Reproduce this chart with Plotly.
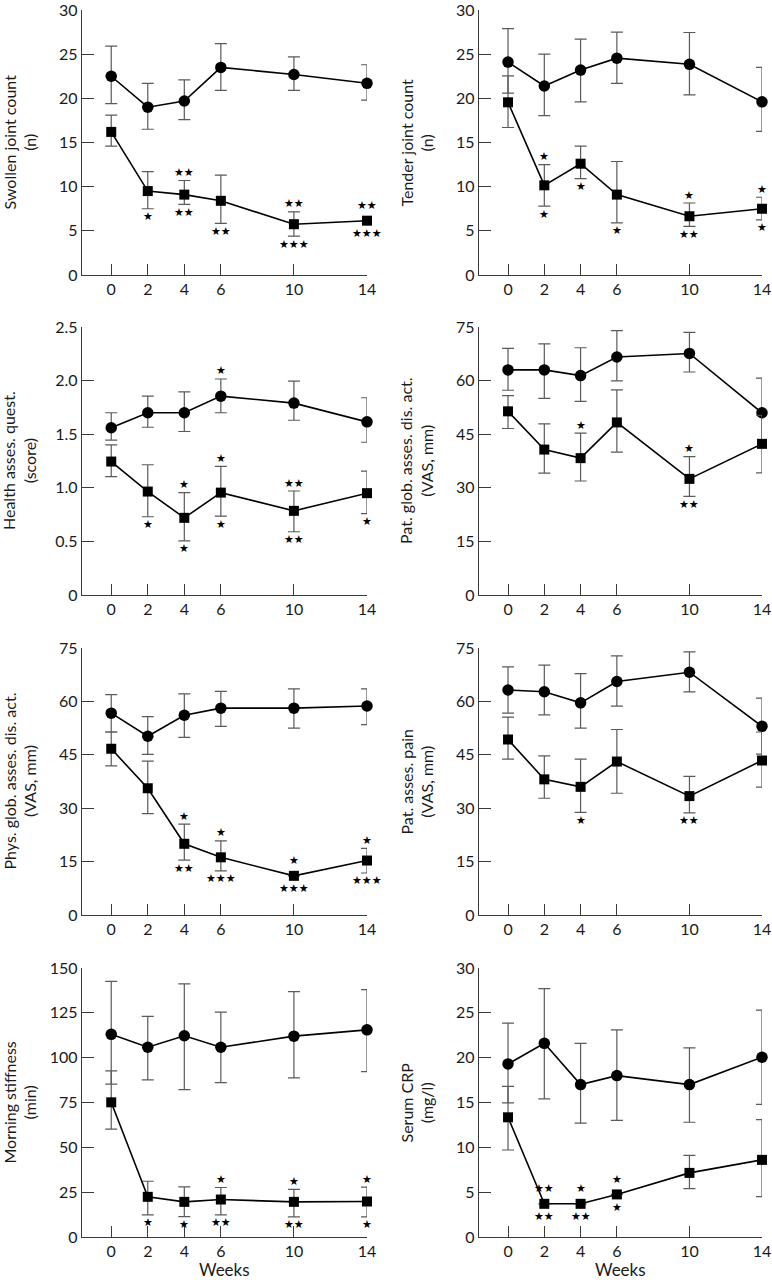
import plotly.graph_objects as go

W, H = 772, 1280
WEEKS = [0, 2, 4, 6, 10, 14]
X_TICKS = ["0", "2", "4", "6", "10", "14"]

# ---- Panel 1: Swollen joint count ----
SJC_CIRC = [22.5, 19.0, 19.7, 23.5, 22.7, 21.7]
SJC_CIRC_HI = [25.9, 21.7, 22.1, 26.2, 24.7, 23.8]
SJC_CIRC_LO = [19.4, 16.5, 17.6, 20.9, 20.9, 19.8]
SJC_SQ = [16.2, 9.5, 9.1, 8.4, 5.75, 6.15]
SJC_SQ_HI = [18.1, 11.7, 10.7, 11.3, 7.15, 6.15]
SJC_SQ_LO = [14.6, 7.5, 8.0, 5.85, 4.4, 6.15]
SJC_ABOVE = ["", "", "★★", "", "★★", "★★"]
SJC_BELOW = ["", "★", "★★", "★★", "★★★", "★★★"]

# ---- Panel 2: Tender joint count ----
TJC_CIRC = [24.1, 21.4, 23.2, 24.55, 23.85, 19.6]
TJC_CIRC_HI = [27.9, 25.0, 26.7, 27.5, 27.45, 23.5]
TJC_CIRC_LO = [20.6, 18.05, 19.6, 21.7, 20.4, 16.25]
TJC_SQ = [19.55, 10.15, 12.6, 9.1, 6.65, 7.5]
TJC_SQ_HI = [22.55, 12.5, 14.6, 12.85, 8.15, 8.8]
TJC_SQ_LO = [16.7, 7.8, 10.9, 5.9, 5.5, 6.25]
TJC_ABOVE = ["", "★", "", "", "★", "★"]
TJC_BELOW = ["", "★", "★", "★", "★★", "★"]

# ---- Panel 3: Health assessment questionnaire ----
HAQ_CIRC = [1.56, 1.70, 1.70, 1.855, 1.79, 1.615]
HAQ_CIRC_HI = [1.70, 1.855, 1.895, 2.015, 1.995, 1.84]
HAQ_CIRC_LO = [1.445, 1.565, 1.525, 1.70, 1.63, 1.425]
HAQ_SQ = [1.245, 0.965, 0.72, 0.955, 0.785, 0.95]
HAQ_SQ_HI = [1.40, 1.215, 0.955, 1.20, 0.97, 1.155]
HAQ_SQ_LO = [1.105, 0.73, 0.505, 0.735, 0.59, 0.76]
HAQ_CIRC_ABOVE = ["", "", "", "★", "", ""]
HAQ_ABOVE = ["", "", "★", "★", "★★", ""]
HAQ_BELOW = ["", "★", "★", "★", "★★", "★"]

# ---- Panel 4: Patient global assessment of disease activity ----
PGA_CIRC = [63.0, 63.0, 61.4, 66.6, 67.6, 51.0]
PGA_CIRC_HI = [69.0, 70.3, 69.2, 74.0, 73.5, 60.7]
PGA_CIRC_LO = [57.3, 55.0, 54.2, 59.9, 62.4, 41.5]
PGA_SQ = [51.4, 40.7, 38.3, 48.3, 32.5, 42.3]
PGA_SQ_HI = [55.8, 47.9, 45.3, 57.4, 38.7, 50.3]
PGA_SQ_LO = [46.6, 34.1, 31.9, 40.0, 27.6, 34.2]
PGA_ABOVE = ["", "", "★", "", "★", ""]
PGA_BELOW = ["", "", "", "", "★★", ""]

# ---- Panel 5: Physician global assessment of disease activity ----
PHGA_CIRC = [56.7, 50.2, 56.1, 58.1, 58.1, 58.7]
PHGA_CIRC_HI = [61.9, 55.7, 62.1, 62.8, 63.5, 63.5]
PHGA_CIRC_LO = [51.4, 45.1, 49.9, 53.0, 52.5, 53.5]
PHGA_SQ = [46.7, 35.6, 20.0, 16.2, 11.0, 15.3]
PHGA_SQ_HI = [51.4, 43.2, 25.5, 20.8, 11.0, 18.7]
PHGA_SQ_LO = [41.9, 28.5, 15.4, 12.4, 11.0, 11.8]
PHGA_ABOVE = ["", "", "★", "★", "★", "★"]
PHGA_BELOW = ["", "", "★★", "★★★", "★★★", "★★★"]

# ---- Panel 6: Patient assessment of pain ----
PAIN_CIRC = [63.2, 62.7, 59.6, 65.6, 68.2, 53.0]
PAIN_CIRC_HI = [69.7, 70.2, 67.8, 72.8, 73.9, 60.9]
PAIN_CIRC_LO = [56.7, 56.2, 52.5, 58.7, 62.7, 45.2]
PAIN_SQ = [49.3, 38.1, 36.0, 43.1, 33.4, 43.4]
PAIN_SQ_HI = [55.6, 44.7, 43.8, 52.1, 38.95, 51.4]
PAIN_SQ_LO = [43.8, 32.8, 28.8, 34.2, 28.7, 35.9]
PAIN_ABOVE = ["", "", "", "", "", ""]
PAIN_BELOW = ["", "", "★", "", "★★", ""]

# ---- Panel 7: Morning stiffness ----
MS_CIRC = [113.0, 105.8, 112.2, 105.8, 112.0, 115.5]
MS_CIRC_HI = [142.5, 123.0, 141.1, 125.4, 136.8, 137.9]
MS_CIRC_LO = [85.2, 87.6, 82.2, 86.1, 88.7, 92.2]
MS_SQ = [75.1, 22.4, 19.6, 20.9, 19.6, 19.8]
MS_SQ_HI = [92.6, 31.1, 28.0, 27.6, 26.6, 27.8]
MS_SQ_LO = [60.2, 12.3, 11.4, 12.3, 11.2, 11.2]
MS_ABOVE = ["", "", "", "★", "★", "★"]
MS_BELOW = ["", "★", "★", "★★", "★★", "★"]

# ---- Panel 8: Serum CRP ----
CRP_CIRC = [19.3, 21.6, 17.0, 18.0, 17.0, 20.05]
CRP_CIRC_HI = [23.85, 27.7, 21.6, 23.1, 21.1, 25.3]
CRP_CIRC_LO = [14.95, 15.4, 12.7, 13.0, 12.8, 14.8]
CRP_SQ = [13.35, 3.7, 3.7, 4.75, 7.15, 8.6]
CRP_SQ_HI = [16.8, 3.7, 3.7, 4.75, 9.1, 13.1]
CRP_SQ_LO = [9.7, 3.7, 3.7, 4.75, 5.4, 4.5]
CRP_ABOVE = ["", "★★", "★", "★", "", ""]
CRP_BELOW = ["", "★★", "★★", "★", "", ""]

EMPTY = ["", "", "", "", "", ""]

Y_TITLES = [
    "Swollen joint count<br>(n)", "Tender joint count<br>(n)",
    "Health asses. quest.<br>(score)", "Pat. glob. asses. dis. act.<br>(VAS, mm)",
    "Phys. glob. asses. dis. act.<br>(VAS, mm)", "Pat. asses. pain<br>(VAS, mm)",
    "Morning stiffness<br>(min)", "Serum CRP<br>(mg/l)",
]
Y_TICKVALS = [
    [0, 5, 10, 15, 20, 25, 30], [0, 5, 10, 15, 20, 25, 30],
    [0, 0.5, 1.0, 1.5, 2.0, 2.5], [0, 15, 30, 45, 60, 75],
    [0, 15, 30, 45, 60, 75], [0, 15, 30, 45, 60, 75],
    [0, 25, 50, 75, 100, 125, 150], [0, 5, 10, 15, 20, 25, 30],
]
Y_TICKTEXT = [
    ["0", "5", "10", "15", "20", "25", "30"], ["0", "5", "10", "15", "20", "25", "30"],
    ["0", "0.5", "1.0", "1.5", "2.0", "2.5"], ["0", "15", "30", "45", "60", "75"],
    ["0", "15", "30", "45", "60", "75"], ["0", "15", "30", "45", "60", "75"],
    ["0", "25", "50", "75", "100", "125", "150"], ["0", "5", "10", "15", "20", "25", "30"],
]

PANELS = [
    (SJC_CIRC, SJC_CIRC_HI, SJC_CIRC_LO, SJC_SQ, SJC_SQ_HI, SJC_SQ_LO, EMPTY, SJC_ABOVE, SJC_BELOW),
    (TJC_CIRC, TJC_CIRC_HI, TJC_CIRC_LO, TJC_SQ, TJC_SQ_HI, TJC_SQ_LO, EMPTY, TJC_ABOVE, TJC_BELOW),
    (HAQ_CIRC, HAQ_CIRC_HI, HAQ_CIRC_LO, HAQ_SQ, HAQ_SQ_HI, HAQ_SQ_LO, HAQ_CIRC_ABOVE, HAQ_ABOVE, HAQ_BELOW),
    (PGA_CIRC, PGA_CIRC_HI, PGA_CIRC_LO, PGA_SQ, PGA_SQ_HI, PGA_SQ_LO, EMPTY, PGA_ABOVE, PGA_BELOW),
    (PHGA_CIRC, PHGA_CIRC_HI, PHGA_CIRC_LO, PHGA_SQ, PHGA_SQ_HI, PHGA_SQ_LO, EMPTY, PHGA_ABOVE, PHGA_BELOW),
    (PAIN_CIRC, PAIN_CIRC_HI, PAIN_CIRC_LO, PAIN_SQ, PAIN_SQ_HI, PAIN_SQ_LO, EMPTY, PAIN_ABOVE, PAIN_BELOW),
    (MS_CIRC, MS_CIRC_HI, MS_CIRC_LO, MS_SQ, MS_SQ_HI, MS_SQ_LO, EMPTY, MS_ABOVE, MS_BELOW),
    (CRP_CIRC, CRP_CIRC_HI, CRP_CIRC_LO, CRP_SQ, CRP_SQ_HI, CRP_SQ_LO, EMPTY, CRP_ABOVE, CRP_BELOW),
]

# ---- layout geometry (pixels) ----
COL_X = [(82, 367), (479, 762)]
ROW_Y = [(10, 275), (327, 595), (648, 915), (968, 1237)]
TITLE_X = [19, 416]
X_MIN = -1.6

FONT = "Lato, 'DejaVu Sans', sans-serif"
AXIS_COL = "#3a3a3a"
ERR_COL = "#5a5a5a"
TEXT_COL = "#1a1a1a"
STAR_FONT = "DejaVu Sans"

fig = go.Figure()
layout = dict(
    width=W, height=H, margin=dict(l=0, r=0, t=0, b=0, autoexpand=False),
    paper_bgcolor="white", plot_bgcolor="white", showlegend=False,
    font=dict(family=FONT, size=16, color=TEXT_COL),
)
annotations = []

for i, p in enumerate(PANELS):
    circ, circ_hi, circ_lo, sq, sq_hi, sq_lo, circ_above, above, below = p
    row, col = divmod(i, 2)
    x0, x1 = COL_X[col]
    yt, yb = ROW_Y[row]
    ymax = Y_TICKVALS[i][-1]
    px_per_unit = (yb - yt) / ymax
    n = i + 1
    xa = "xaxis" if n == 1 else f"xaxis{n}"
    ya = "yaxis" if n == 1 else f"yaxis{n}"
    xr = "x" if n == 1 else f"x{n}"
    yr = "y" if n == 1 else f"y{n}"

    layout[xa] = dict(
        domain=[x0 / W, x1 / W], range=[X_MIN, 14], anchor=yr, automargin=False,
        ticklabeloverflow="allow",
        tickvals=WEEKS, ticktext=X_TICKS, ticks="inside", ticklen=11,
        tickwidth=1.3, tickcolor=AXIS_COL, showline=True, linecolor=AXIS_COL,
        linewidth=1.3, showgrid=False, zeroline=False,
        tickfont=dict(size=16, family=FONT, color=TEXT_COL),
    )
    layout[ya] = dict(
        domain=[1 - yb / H, 1 - yt / H], range=[0, ymax], anchor=xr, automargin=False,
        ticklabeloverflow="allow",
        tickvals=Y_TICKVALS[i], ticktext=Y_TICKTEXT[i], ticks="inside", ticklen=12,
        tickwidth=1.3, tickcolor=AXIS_COL, showline=True, linecolor=AXIS_COL,
        linewidth=1.3, showgrid=False, zeroline=False,
        tickfont=dict(size=16, family=FONT, color=TEXT_COL),
    )

    for mean, hi, lo, sym, size in [(circ, circ_hi, circ_lo, "circle", 11.5),
                                      (sq, sq_hi, sq_lo, "square", 10)]:
        fig.add_trace(go.Scatter(
            x=WEEKS, y=mean, xaxis=xr, yaxis=yr, mode="lines+markers",
            line=dict(color="black", width=1.6),
            marker=dict(symbol=sym, size=size, color="black"),
            error_y=dict(type="data", symmetric=False,
                         array=[h - m for h, m in zip(hi, mean)],
                         arrayminus=[m - l for m, l in zip(mean, lo)],
                         color=ERR_COL, thickness=1.2, width=6),
            cliponaxis=False, hoverinfo="skip",
        ))

    def add_stars(texts, caps, means, sign):
        for wk, t, c, m in zip(WEEKS, texts, caps, means):
            if not t:
                continue
            dist = abs(c - m) * px_per_unit
            off = max(dist, 5) + (10 if sign > 0 and dist < 5 else 8)
            annotations.append(dict(
                x=wk, y=m, xref=xr, yref=yr, text=t, showarrow=False,
                yshift=sign * off, xanchor="center", yanchor="middle",
                font=dict(family=STAR_FONT, size=11, color="black"),
            ))

    add_stars(circ_above, circ_hi, circ, 1)
    add_stars(above, sq_hi, sq, 1)
    add_stars(below, sq_lo, sq, -1)

    annotations.append(dict(
        x=TITLE_X[col] / W, y=1 - (yt + yb) / 2 / H, xref="paper", yref="paper",
        text=Y_TITLES[i], textangle=-90, showarrow=False,
        xanchor="center", yanchor="middle",
        font=dict(family=FONT, size=16, color=TEXT_COL),
    ))

for col in range(2):
    x0, x1 = COL_X[col]
    annotations.append(dict(
        x=(x0 + x1) / 2 / W, y=0, xref="paper", yref="paper",
        text="Weeks", showarrow=False, xanchor="center", yanchor="bottom",
        yshift=-2, font=dict(family=FONT, size=17, color=TEXT_COL),
    ))

layout["annotations"] = annotations
fig.update_layout(**layout)
fig.write_html(
    "out.html",
    config={"displayModeBar": False},
    post_script="document.body.style.margin='0px';document.body.style.overflow='hidden';",
)
